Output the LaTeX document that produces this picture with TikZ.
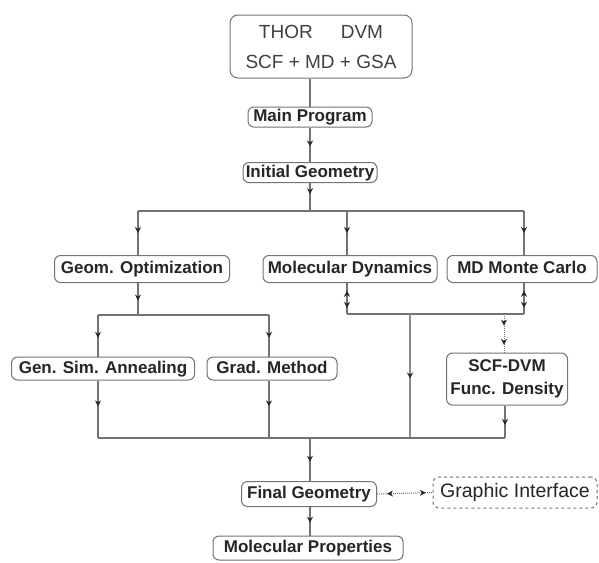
\documentclass[tikz,border=0pt]{standalone}
\usepackage{fontspec}
\setmainfont{Liberation Sans}
\usetikzlibrary{arrows.meta,decorations.markings}
\tikzset{
  box/.style={draw=black!55, line width=1pt, rounded corners=6pt, fill=white,
    font=\bfseries\fontsize{17}{20}\selectfont, text=black!85, inner xsep=2pt, inner ysep=2pt},
  sl/.style={text height=12.5pt, text depth=3.5pt},
  conn/.style={draw=black!55, line width=1.1pt},
  thick conn/.style={draw=black!45, line width=2.2pt},
  dotconn/.style={draw=black!55, line width=1pt, densely dotted},
  midarr/.style={postaction={decorate, decoration={markings,
    mark=at position #1 with {\arrow[black!85]{Stealth[length=6pt,width=6pt]}}}}},
  midrev/.style={postaction={decorate, decoration={markings,
    mark=at position #1 with {\arrowreversed[black!85]{Stealth[length=6pt,width=6pt]}}}}},
}
\begin{document}
\begin{tikzpicture}[x=1pt,y=-1pt]
\useasboundingbox (0,0) rectangle (599,562);
\fill[white] (0,0) rectangle (599,562);

% nodes
\node[box, rounded corners=8pt, font=\fontsize{19}{30}\selectfont, text=black!75, align=center, minimum width=182pt, minimum height=63pt] (top) at (321,46.5)
  {THOR\hspace{28pt}DVM\\SCF + MD + GSA};
\node[box, sl, minimum width=124pt] (main) at (310,117) {Main Program};
\node[box, sl, minimum width=134pt] (init) at (310,172.5) {Initial Geometry};
\node[box, sl, minimum width=175pt, minimum height=27pt] (geo) at (142,269) {Geom. Optimization};
\node[box, sl, minimum width=174pt, minimum height=27pt] (md) at (350,269) {Molecular Dynamics};
\node[box, sl, minimum width=150pt, minimum height=27pt] (mc) at (522,269) {MD Monte Carlo};
\node[box, sl, minimum width=183pt, minimum height=23pt] (gsa) at (103,368.5) {Gen. Sim. Annealing};
\node[box, sl, minimum width=130pt, minimum height=23pt] (grad) at (272,368.5) {Grad. Method};
\node[box, align=center, font=\bfseries\fontsize{17}{23}\selectfont, minimum width=121pt, minimum height=52pt] (scf) at (507,379)
  {SCF-DVM\\Func. Density};
\node[box, sl, minimum width=135pt, minimum height=25pt] (final) at (309,494) {Final Geometry};
\node[box, dashed, font=\fontsize{19.5}{22}\selectfont, minimum width=164pt, minimum height=31pt] (gi) at (515,492.5) {Graphic Interface};
\node[box, sl, minimum width=190pt, minimum height=24pt] (mp) at (308,548) {Molecular Properties};

% junction coordinates
\coordinate (j1) at (310,211);
\coordinate (cgeo) at (138,211);
\coordinate (cmd) at (347,211);
\coordinate (cmc) at (524,211);
\coordinate (b2l) at (98,315);
\coordinate (b2r) at (269,315);
\coordinate (b2c) at (138,315);
\coordinate (b3l) at (347,314);
\coordinate (b3r) at (524,314);
\coordinate (b3m) at (410,314);
\coordinate (b3s) at (504,314);
\coordinate (b4l) at (98,438);
\coordinate (b4g) at (269,438);
\coordinate (b4m) at (410,438);
\coordinate (b4r) at (505,438);
\coordinate (b4c) at (310,438);

% connectors
\draw[conn] (top.south -| main.north) -- (main.north);
\draw[conn, midarr=0.55] (main.south) -- (init.north);
\draw[conn, midarr=0.4] (init.south) -- (j1);
\draw[conn] (cgeo) -- (cmc);
\draw[conn, midarr=0.5] (cgeo) -- (cgeo |- geo.north);
\draw[conn, midarr=0.5] (cmd) -- (cmd |- md.north);
\draw[conn, midarr=0.5] (cmc) -- (cmc |- mc.north);

\draw[conn, midarr=0.55] (b2c |- geo.south) -- (b2c);
\draw[conn] (b2l) -- (b2r);
\draw[conn, midarr=0.55] (b2l) -- (b2l |- gsa.north);
\draw[conn, midarr=0.55] (b2r) -- (b2r |- grad.north);

\draw[conn, midrev=0.25, midarr=0.8] (b3l |- md.south) -- (b3l);
\draw[conn, midrev=0.25, midarr=0.8] (b3r |- mc.south) -- (b3r);
\draw[conn] (b3l) -- (b3r);
\draw[dotconn, midarr=0.3, midarr=0.8] (b3s) -- (b3s |- scf.north);
\draw[thick conn, midarr=0.52] (b3m) -- (b4m);

\draw[conn, midarr=0.45] (b4l |- gsa.south) -- (b4l);
\draw[conn, midarr=0.45] (b4g |- grad.south) -- (b4g);
\draw[conn, midarr=0.6] (b4r |- scf.south) -- (b4r);
\draw[conn] (b4l) -- (b4r);

\draw[conn, midarr=0.55] (b4c) -- (b4c |- final.north);
\draw[dotconn, midrev=0.18, midarr=0.88] (final.east) -- (gi.west);
\draw[conn, midarr=0.55] (final.south -| b4c) -- (mp.north -| b4c);
\end{tikzpicture}
\end{document}
